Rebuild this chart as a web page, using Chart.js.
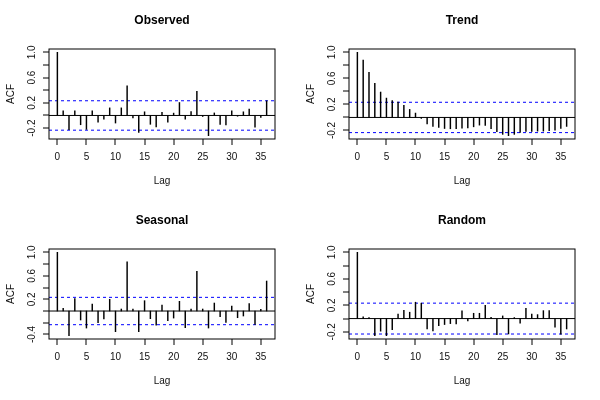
<!DOCTYPE html>
<html>
<head>
<meta charset="utf-8">
<script src="https://cdn.jsdelivr.net/npm/chart.js@4.4.1/dist/chart.umd.min.js"></script>
<style>
  html, body { margin: 0; padding: 0; background: #fff; }
  #wrap { position: relative; width: 600px; height: 400px; }
  canvas { position: absolute; }
</style>
</head>
<body>
<div id="wrap">
  <canvas id="observed" width="300" height="200" style="left:0;top:0"></canvas>
  <canvas id="trend" width="300" height="200" style="left:300px;top:0"></canvas>
  <canvas id="seasonal" width="300" height="200" style="left:0;top:200px"></canvas>
  <canvas id="random" width="300" height="200" style="left:300px;top:200px"></canvas>
</div>
<script>
// lags 0..36, one ACF value per lag
const lags = [0, 1, 2, 3, 4, 5, 6, 7, 8, 9, 10, 11, 12, 13, 14, 15, 16, 17, 18,
  19, 20, 21, 22, 23, 24, 25, 26, 27, 28, 29, 30, 31, 32, 33, 34, 35, 36];

const observedAcf = [1.0, 0.074, -0.226, 0.074, -0.147, -0.22, 0.074, -0.105, -0.058, 0.12,
  -0.12, 0.12, 0.468, -0.04, -0.27, 0.058, -0.14, -0.18, 0.05, -0.105,
  0.037, 0.205, -0.058, 0.063, 0.384, -0.016, -0.32, 0.04, -0.14, -0.15,
  0.074, -0.012, 0.058, 0.1, -0.184, -0.03, 0.232];

const trendAcf = [1.0, 0.882, 0.692, 0.523, 0.39, 0.297, 0.26, 0.236, 0.185, 0.123,
  0.067, -0.015, -0.1, -0.138, -0.154, -0.17, -0.174, -0.174, -0.164, -0.16,
  -0.144, -0.118, -0.123, -0.174, -0.22, -0.26, -0.28, -0.26, -0.23, -0.215,
  -0.215, -0.21, -0.21, -0.205, -0.195, -0.17, -0.138];

const seasonalAcf = [1.0, 0.045, -0.42, 0.21, -0.153, -0.29, 0.12, -0.2, -0.136, 0.2,
  -0.352, 0.034, 0.84, 0.034, -0.352, 0.176, -0.13, -0.24, 0.1, -0.165,
  -0.12, 0.165, -0.284, 0.034, 0.676, 0.034, -0.29, 0.136, -0.097, -0.193,
  0.085, -0.114, -0.085, 0.125, -0.227, 0.028, 0.511];

const randomAcf = [1.0, 0.025, 0.015, -0.258, -0.19, -0.258, -0.167, 0.066, 0.126, 0.096,
  0.247, 0.232, -0.157, -0.187, -0.106, -0.09, -0.076, -0.08, 0.116, -0.035,
  0.08, 0.08, 0.2, 0.02, -0.242, 0.04, -0.232, 0.015, -0.07, 0.156,
  0.066, 0.06, 0.12, 0.12, -0.13, -0.237, -0.157];

const confLimit = 0.233;

const xTicks = [0, 5, 10, 15, 20, 25, 30, 35];
const yTicksStd = [-0.2, 0, 0.2, 0.4, 0.6, 0.8, 1.0];
const yLabelsStd = ['-0.2', '', '0.2', '', '0.6', '', '1.0'];
const yTicksSeasonal = [-0.4, -0.2, 0, 0.2, 0.4, 0.6, 0.8, 1.0];
const yLabelsSeasonal = ['-0.4', '', '', '0.2', '', '0.6', '', '1.0'];

const FONT = '"Liberation Sans", Arial, Helvetica, sans-serif';

// R style frame, ticks and labels drawn against the chart's own scales
const rAxesPlugin = {
  id: 'rAxes',
  afterDraw(chart, args, opts) {
    const { ctx, chartArea: a, scales: { x, y } } = chart;
    ctx.save();
    ctx.strokeStyle = '#000';
    ctx.lineWidth = 1;
    ctx.strokeRect(Math.round(a.left), Math.round(a.top),
      Math.round(a.right - a.left), Math.round(a.bottom - a.top));

    ctx.beginPath();
    opts.xTicks.forEach(v => {
      const px = Math.round(x.getPixelForValue(v));
      ctx.moveTo(px, a.bottom);
      ctx.lineTo(px, a.bottom + 6);
    });
    opts.yTicks.forEach(v => {
      const py = Math.round(y.getPixelForValue(v));
      ctx.moveTo(a.left, py);
      ctx.lineTo(a.left - 6, py);
    });
    ctx.stroke();

    ctx.fillStyle = '#111';
    ctx.textAlign = 'center';
    ctx.textBaseline = 'middle';
    ctx.font = '10px ' + FONT;
    opts.xTicks.forEach(v => {
      ctx.fillText(String(v), x.getPixelForValue(v), a.bottom + 18.5);
    });
    ctx.fillText('Lag', (a.left + a.right) / 2, a.bottom + 42);

    opts.yTicks.forEach((v, i) => {
      const label = opts.yLabels[i];
      if (!label) return;
      ctx.save();
      ctx.translate(a.left - 17, y.getPixelForValue(v));
      ctx.rotate(-Math.PI / 2);
      ctx.fillText(label, 0, 0);
      ctx.restore();
    });
    ctx.save();
    ctx.translate(a.left - 38, (a.top + a.bottom) / 2);
    ctx.rotate(-Math.PI / 2);
    ctx.fillText('ACF', 0, 0);
    ctx.restore();

    ctx.fillStyle = '#000';
    ctx.font = 'bold 12px ' + FONT;
    ctx.fillText(opts.title, (a.left + a.right) / 2, a.top - 28);
    ctx.restore();
  }
};

function makeAcfChart(id, title, acf, yTicks, yLabels) {
  const lo = Math.min(...acf, -confLimit);
  const hi = Math.max(...acf, confLimit);
  const yPad = (hi - lo) * 0.04;
  const xPad = (lags[lags.length - 1] - lags[0]) * 0.04;
  const xMin = lags[0] - xPad;
  const xMax = lags[lags.length - 1] + xPad;

  const hLine = (val, color, dash) => ({
    type: 'line',
    data: [{ x: xMin, y: val }, { x: xMax, y: val }],
    borderColor: color,
    borderWidth: 1,
    borderDash: dash,
    pointRadius: 0,
    fill: false
  });

  return new Chart(document.getElementById(id), {
    type: 'bar',
    data: {
      datasets: [
        {
          type: 'bar',
          data: lags.map((lag, i) => ({ x: lag, y: acf[i] })),
          backgroundColor: '#000',
          borderWidth: 0,
          barThickness: 0.8
        },
        hLine(0, '#000', []),
        hLine(confLimit, '#0000ff', [3, 3]),
        hLine(-confLimit, '#0000ff', [3, 3])
      ]
    },
    options: {
      responsive: false,
      animation: false,
      devicePixelRatio: 1,
      layout: { padding: { left: 49, right: 25, top: 49, bottom: 61 } },
      scales: {
        x: { type: 'linear', min: xMin, max: xMax, offset: false, display: false },
        y: { type: 'linear', min: lo - yPad, max: hi + yPad, display: false }
      },
      plugins: {
        legend: { display: false },
        tooltip: { enabled: false },
        rAxes: { title, xTicks, yTicks, yLabels }
      }
    },
    plugins: [rAxesPlugin]
  });
}

makeAcfChart('observed', 'Observed', observedAcf, yTicksStd, yLabelsStd);
makeAcfChart('trend', 'Trend', trendAcf, yTicksStd, yLabelsStd);
makeAcfChart('seasonal', 'Seasonal', seasonalAcf, yTicksSeasonal, yLabelsSeasonal);
makeAcfChart('random', 'Random', randomAcf, yTicksStd, yLabelsStd);
</script>
</body>
</html>
